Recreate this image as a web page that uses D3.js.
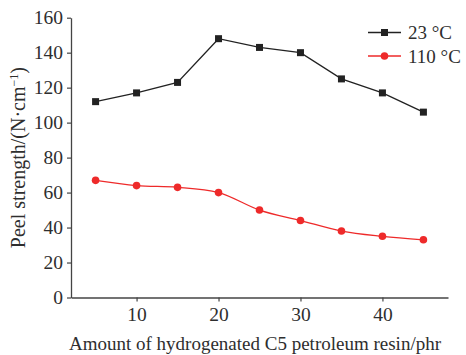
<!DOCTYPE html>
<html>
<head>
<meta charset="utf-8">
<script src="https://cdn.jsdelivr.net/npm/d3@7"></script>
<style>
  html, body { margin: 0; padding: 0; background: #fff; }
  svg text { font-family: "Liberation Serif", "Times New Roman", serif; fill: #2e2e2e; }
</style>
</head>
<body>
<svg id="chart" width="466" height="355"></svg>
<script>
// Resin loading (phr)
const resinAmount = [5, 10, 15, 20, 25, 30, 35, 40, 45];
// Peel strength (N·cm⁻¹) at each test temperature
const peel23 = [112, 117, 123, 148, 143, 140, 125, 117, 106];
const peel110 = [67, 64, 63, 60, 50, 44, 38, 35, 33];
const seriesNames = ["23 °C", "110 °C"];
const xTicks = [10, 20, 30, 40];
const yTicks = [0, 20, 40, 60, 80, 100, 120, 140, 160];

const svg = d3.select("#chart");
const margin = { left: 71, right: 18, top: 17.7, bottom: 57.5 };
const W = 466, H = 355;

const x = d3.scaleLinear().domain([2, 48]).range([margin.left, W - margin.right]);
const y = d3.scaleLinear().domain([0, 160]).range([H - margin.bottom, margin.top]);

const axisColor = "#444";
const tickFont = "19.5px";

// Axes
const gx = svg.append("g")
  .attr("transform", `translate(0,${y(0)})`)
  .call(d3.axisBottom(x).tickValues(xTicks).tickSize(4).tickSizeOuter(0).tickPadding(6));
const gy = svg.append("g")
  .attr("transform", `translate(${x(2)},0)`)
  .call(d3.axisLeft(y).tickValues(yTicks).tickSize(4).tickSizeOuter(0).tickPadding(4));
[gx, gy].forEach(g => {
  g.selectAll("path.domain").attr("stroke", axisColor).attr("stroke-width", 1.3);
  g.selectAll(".tick line").attr("stroke", axisColor).attr("stroke-width", 1.2);
  g.selectAll(".tick text").style("font-size", tickFont);
});

// Axis titles
svg.append("text")
  .attr("x", 255)
  .attr("y", 350)
  .attr("text-anchor", "middle")
  .style("font-size", "19px")
  .text("Amount of hydrogenated C5 petroleum resin/phr");

const yTitle = svg.append("text")
  .attr("transform", `translate(25,${(y(0) + y(160)) / 2}) rotate(-90)`)
  .attr("text-anchor", "middle")
  .style("font-size", "20px");
yTitle.append("tspan").text("Peel strength/(N·cm");
yTitle.append("tspan").attr("dy", -7).style("font-size", "12px").text("−1");
yTitle.append("tspan").attr("dy", 7).text(")");

// Series
const black = "#222222", red = "#ee2a2a";

const line23 = d3.line().x((d, i) => x(resinAmount[i])).y(d => y(d));
const line110 = d3.line().x((d, i) => x(resinAmount[i])).y(d => y(d)).curve(d3.curveMonotoneX);

svg.append("path").datum(peel23)
  .attr("d", line23).attr("fill", "none").attr("stroke", black).attr("stroke-width", 1.3);
svg.append("path").datum(peel110)
  .attr("d", line110).attr("fill", "none").attr("stroke", red).attr("stroke-width", 1.3);

const sq = 7;
svg.append("g").selectAll("rect").data(peel23).join("rect")
  .attr("x", (d, i) => x(resinAmount[i]) - sq / 2)
  .attr("y", d => y(d) - sq / 2)
  .attr("width", sq).attr("height", sq)
  .attr("fill", black);

svg.append("g").selectAll("circle").data(peel110).join("circle")
  .attr("cx", (d, i) => x(resinAmount[i]))
  .attr("cy", d => y(d))
  .attr("r", 3.8)
  .attr("fill", red);

// Legend
const legend = svg.append("g");
const lx0 = 368, lx1 = 401, ly = [32.5, 56];
legend.append("line").attr("x1", lx0).attr("x2", lx1).attr("y1", ly[0]).attr("y2", ly[0])
  .attr("stroke", black).attr("stroke-width", 1.3);
legend.append("rect").attr("x", (lx0 + lx1) / 2 - sq / 2).attr("y", ly[0] - sq / 2)
  .attr("width", sq).attr("height", sq).attr("fill", black);
legend.append("line").attr("x1", lx0).attr("x2", lx1).attr("y1", ly[1]).attr("y2", ly[1])
  .attr("stroke", red).attr("stroke-width", 1.3);
legend.append("circle").attr("cx", (lx0 + lx1) / 2).attr("cy", ly[1]).attr("r", 3.8).attr("fill", red);
seriesNames.forEach((name, i) => {
  legend.append("text").attr("x", 408).attr("y", ly[i]).attr("dy", "0.35em")
    .style("font-size", "19px").text(name);
});
</script>
</body>
</html>
